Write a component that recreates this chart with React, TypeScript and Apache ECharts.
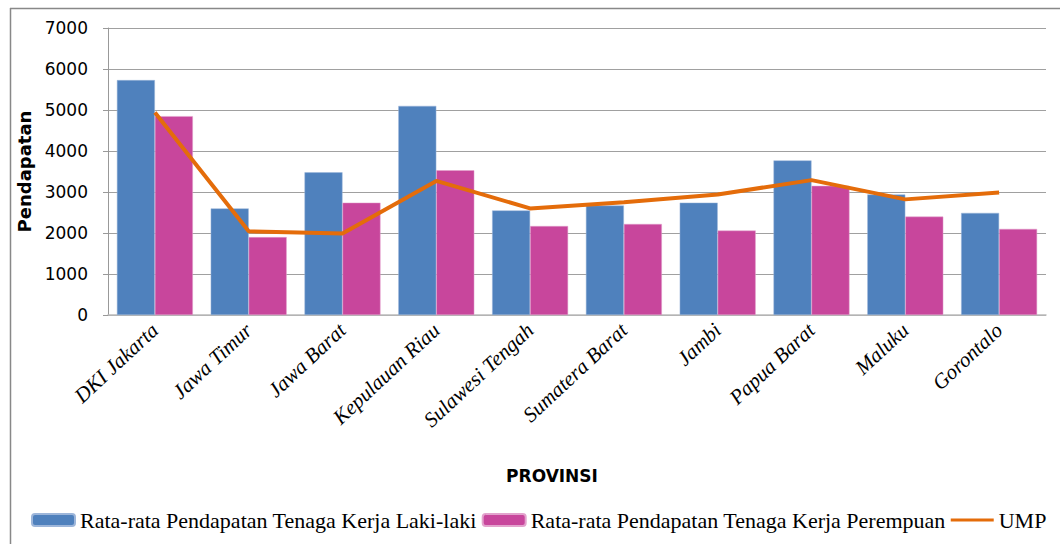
import React, { useEffect, useRef } from "react";
import * as echarts from "echarts";

const categories = [
  "DKI Jakarta",
  "Jawa Timur",
  "Jawa Barat",
  "Kepulauan Riau",
  "Sulawesi Tengah",
  "Sumatera Barat",
  "Jambi",
  "Papua Barat",
  "Maluku",
  "Gorontalo",
];
const lakiLaki = [5730, 2600, 3480, 5100, 2550, 2670, 2740, 3770, 2940, 2490];
const perempuan = [4850, 1900, 2740, 3530, 2170, 2220, 2060, 3150, 2400, 2100];
const ump = [4940, 2040, 1990, 3270, 2600, 2750, 2940, 3290, 2820, 2990];
const seriesNames = [
  "Rata-rata Pendapatan Tenaga Kerja Laki-laki",
  "Rata-rata Pendapatan Tenaga Kerja Perempuan",
  "UMP",
];

export default function App() {
  const ref = useRef<HTMLDivElement>(null);
  useEffect(() => {
    if (!ref.current) return;
    const chart = echarts.init(ref.current, null, { renderer: "svg" });
    chart.setOption({
      animation: false,
      backgroundColor: "#ffffff",
      grid: { left: 108, right: 14, top: 28, bottom: 229, containLabel: false },
      legend: {
        left: 26,
        top: 504,
        itemWidth: 43,
        itemHeight: 12,
        itemGap: 5,
        textStyle: { fontFamily: "Liberation Serif", fontSize: 22, color: "#000" },
        data: [
          { name: seriesNames[0] },
          { name: seriesNames[1] },
          { name: seriesNames[2], icon: "path://M0,0 L0,0 M0,4.5 L43,4.5 L43,7.5 L0,7.5 Z M43,12 L43,12" },
        ],
      },
      graphic: [
        { type: "line", shape: { x1: 10, y1: 8.5, x2: 1060, y2: 8.5 }, style: { stroke: "#888", lineWidth: 1.5 } },
        { type: "line", shape: { x1: 10.5, y1: 8, x2: 10.5, y2: 544 }, style: { stroke: "#888", lineWidth: 1.5 } },
      ],
      xAxis: {
        type: "category",
        data: categories,
        name: "PROVINSI",
        nameLocation: "middle",
        nameGap: 152,
        nameTextStyle: {
          fontFamily: "DejaVu Sans",
          fontWeight: "bold",
          fontSize: 17,
          color: "#000",
          padding: [0, 50, 0, 0],
        },
        axisLine: { lineStyle: { color: "#bbb", width: 1.5 } },
        axisTick: { show: false },
        axisLabel: {
          rotate: 43,
          margin: 12,
          interval: 0,
          fontFamily: "Liberation Serif",
          fontStyle: "italic",
          fontSize: 21,
          color: "#000",
        },
      },
      yAxis: {
        type: "value",
        min: 0,
        max: 7000,
        interval: 1000,
        name: "Pendapatan",
        nameLocation: "middle",
        nameRotate: 90,
        nameGap: 70,
        nameTextStyle: { fontFamily: "DejaVu Sans", fontWeight: "bold", fontSize: 18, color: "#000" },
        axisLine: { show: true, lineStyle: { color: "#999", width: 1 } },
        axisTick: { show: true, length: 5, lineStyle: { color: "#999" } },
        axisLabel: {
          margin: 20,
          fontFamily: "DejaVu Sans",
          fontSize: 17,
          color: "#000",
          formatter: (v: number) => String(v),
        },
        splitLine: { lineStyle: { color: "#a0a0a0", width: 1.2 } },
      },
      series: [
        {
          name: seriesNames[0],
          type: "bar",
          data: lakiLaki,
          barGap: "0%",
          barCategoryGap: "19%",
          itemStyle: { color: "#4F81BD", borderColor: "#9db6da", borderWidth: 0.5 },
        },
        {
          name: seriesNames[1],
          type: "bar",
          data: perempuan,
          barGap: "0%",
          barCategoryGap: "19%",
          itemStyle: { color: "#C8469C", borderColor: "#e3a3cd", borderWidth: 0.5 },
        },
        {
          name: seriesNames[2],
          type: "line",
          data: ump,
          symbol: "none",
          lineStyle: { color: "#E46C0A", width: 4 },
          itemStyle: { color: "#E46C0A" },
        },
      ],
    });
    return () => chart.dispose();
  }, []);
  return <div ref={ref} style={{ width: 1060, height: 544, position: "absolute", left: 0, top: 0 }} />;
}
